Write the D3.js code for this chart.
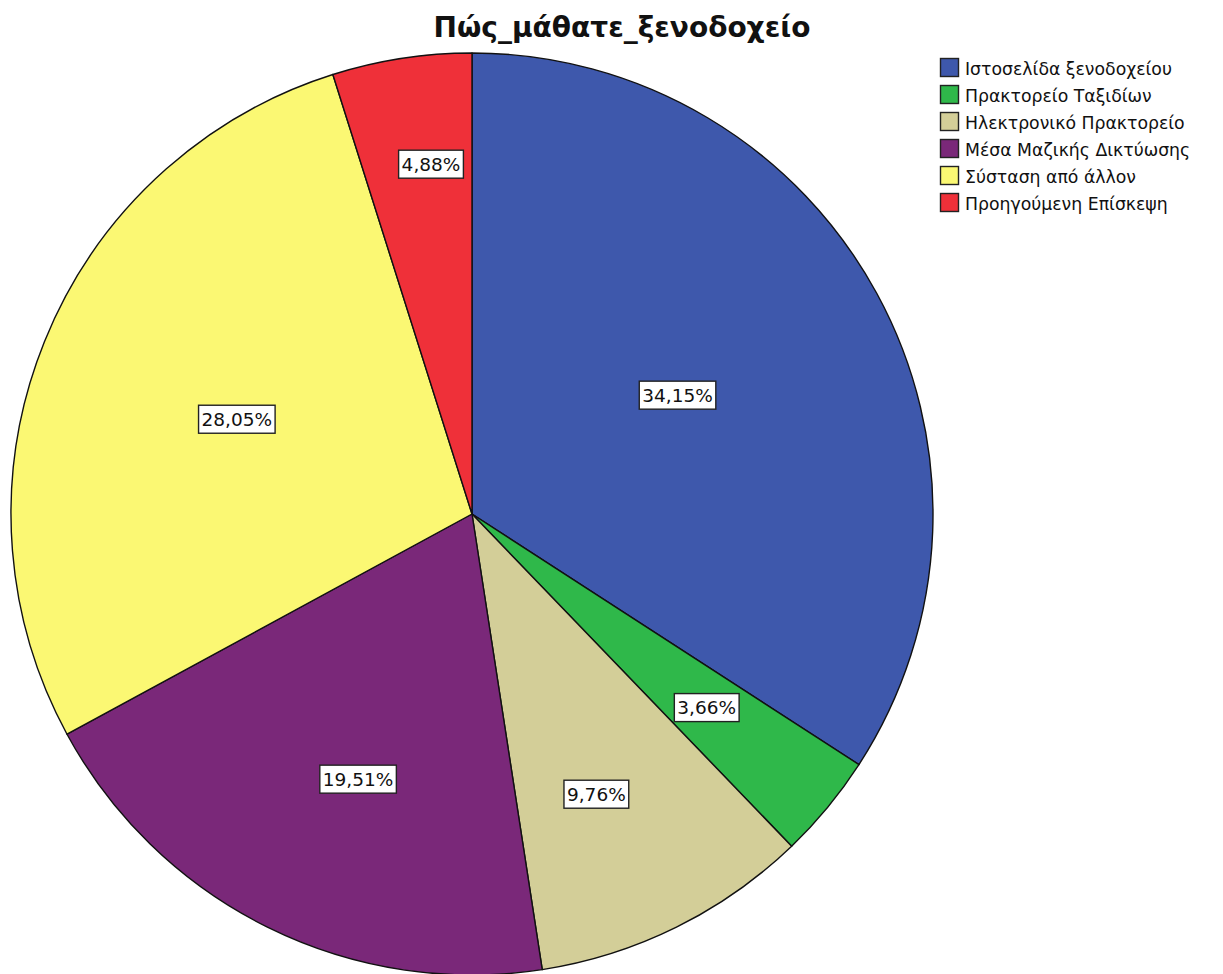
<!DOCTYPE html>
<html>
<head>
<meta charset="utf-8">
<script src="https://cdn.jsdelivr.net/npm/d3@7/dist/d3.min.js"></script>
<style>
  html, body { margin: 0; padding: 0; background: #ffffff; }
  svg { display: block; }
</style>
</head>
<body>
<svg id="chart" width="1223" height="974"></svg>
<script>
// Survey answers: how the guest learned about the hotel (percent of respondents)
const categories = [
  "Ιστοσελίδα ξενοδοχείου",
  "Πρακτορείο Ταξιδίων",
  "Ηλεκτρονικό Πρακτορείο",
  "Μέσα Μαζικής Δικτύωσης",
  "Σύσταση από άλλον",
  "Προηγούμενη Επίσκεψη"
];
const percents = [34.15, 3.66, 9.76, 19.51, 28.05, 4.88];
const sliceColors = ["#3e58ac", "#2fb84a", "#d3ce98", "#7a2879", "#fbf873", "#ef3039"];
const chartTitle = "Πώς_μάθατε_ξενοδοχείο";

const data = categories.map((c, i) => ({ category: c, value: percents[i], color: sliceColors[i] }));

const svg = d3.select("#chart");
const cx = 472, cy = 514, R = 461;
const FONT = "DejaVu Sans, Verdana, sans-serif";

// label placement per slice: distance as a share of the radius, and a small angular nudge (degrees)
const labelRadius = [0.515, 0.66, 0.665, 0.626, 0.55, 0.764];
const labelNudge = [-1.5, 0, 2.4, -3.1, 0, 2.1];

const pie = d3.pie().sort(null).value(d => d.value);
const arcs = pie(data);
const arc = d3.arc().innerRadius(0).outerRadius(R);

const g = svg.append("g").attr("transform", `translate(${cx},${cy})`);

g.selectAll("path.slice")
  .data(arcs)
  .join("path")
  .attr("class", "slice")
  .attr("d", arc)
  .attr("fill", d => d.data.color)
  .attr("stroke", "#111")
  .attr("stroke-width", 1.4)
  .attr("stroke-linejoin", "round");

const fmt = v => d3.format(".2f")(v).replace(".", ",") + "%";

const labels = g.selectAll("g.lbl")
  .data(arcs)
  .join("g")
  .attr("class", "lbl")
  .attr("transform", (d, i) => {
    const a = (d.startAngle + d.endAngle) / 2 + labelNudge[i] * Math.PI / 180;
    const r = R * labelRadius[i];
    return `translate(${Math.sin(a) * r},${-Math.cos(a) * r})`;
  });

labels.append("text")
  .attr("text-anchor", "middle")
  .attr("dominant-baseline", "central")
  .attr("font-family", FONT)
  .attr("font-size", 18.5)
  .attr("fill", "#111")
  .text(d => fmt(d.data.value));

labels.each(function () {
  const grp = d3.select(this);
  const bb = grp.select("text").node().getBBox();
  const padX = 3;
  grp.insert("rect", "text")
    .attr("x", bb.x - padX)
    .attr("y", -14)
    .attr("width", bb.width + padX * 2)
    .attr("height", 28)
    .attr("fill", "#ffffff")
    .attr("stroke", "#222")
    .attr("stroke-width", 1.4);
});

// title
svg.append("text")
  .attr("x", 622)
  .attr("y", 37)
  .attr("text-anchor", "middle")
  .attr("font-family", FONT)
  .attr("font-weight", "bold")
  .attr("font-size", 28)
  .attr("fill", "#111")
  .text(chartTitle);

// legend
const legend = svg.append("g").attr("transform", "translate(940,58)");
const row = legend.selectAll("g.item")
  .data(data)
  .join("g")
  .attr("class", "item")
  .attr("transform", (d, i) => `translate(0,${i * 27})`);

row.append("rect")
  .attr("x", 0.5).attr("y", 0.5)
  .attr("width", 18).attr("height", 18)
  .attr("fill", d => d.color)
  .attr("stroke", "#222")
  .attr("stroke-width", 1.4);

row.append("text")
  .attr("x", 25)
  .attr("y", 11)
  .attr("dominant-baseline", "central")
  .attr("font-family", FONT)
  .attr("font-size", 17.3)
  .attr("fill", "#111")
  .text(d => d.category);
</script>
</body>
</html>
